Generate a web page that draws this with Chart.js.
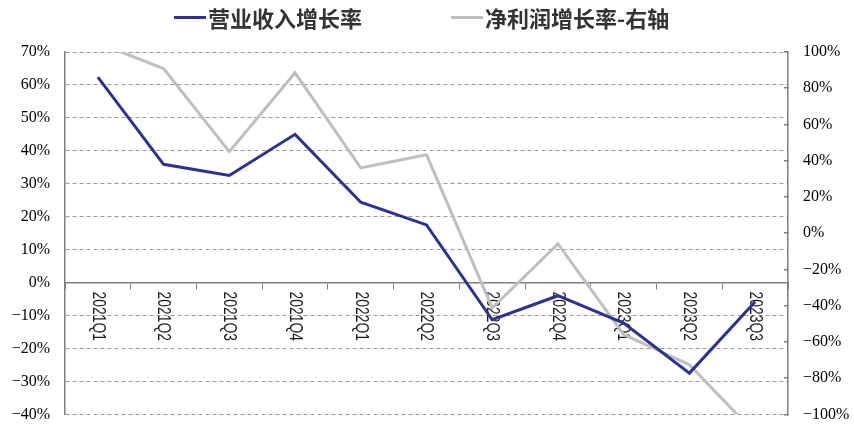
<!DOCTYPE html>
<html>
<head>
<meta charset="utf-8">
<script src="https://cdn.jsdelivr.net/npm/chart.js@4"></script>
<style>
  html, body { margin: 0; padding: 0; background: #fff; }
  #wrap { width: 854px; height: 425px; }
</style>
</head>
<body>
<div id="wrap"><canvas id="c" width="854" height="425"></canvas></div>
<script>
  const quarters = ["2021Q1","2021Q2","2021Q3","2021Q4","2022Q1","2022Q2","2022Q3","2022Q4","2023Q1","2023Q2","2023Q3"];
  const revenueGrowth = [62.4, 35.9, 32.5, 45.0, 24.4, 17.5, -11.3, -4.0, -12.3, -27.5, -5.8];
  const profitGrowth = [105, 90.9, 45.0, 88.5, 36.0, 43.3, -41.3, -5.9, -56.0, -72.6, -110.4];
  const seriesNames = ["营业收入增长率", "净利润增长率-右轴"];
  const leftRange = { min: -40, max: 70, step: 10 };
  const rightRange = { min: -100, max: 100, step: 20 };

  const BLUE = "#2e3192";
  const GRAY = "#bfbfbf";
  const AXIS = "#7f7f7f";
  const GRID = "#999";
  const TEXT = "#000";

  function pct(v){
    return (v < 0 ? "\u2212" + Math.abs(v) : v) + "%";
  }

  // fixed axis widths, no label overhang so the plot box lands where the original is
  function fixWidth(w){
    return s => { s.width = w; s.paddingTop = 0; s.paddingBottom = 0; };
  }

  // quarter labels: rotated clockwise, narrow, hanging under the zero line
  const xLabelsPlugin = {
    id: "xLabels",
    beforeDatasetsDraw(chart){
      const ctx = chart.ctx;
      const x = chart.scales.x;
      const y0 = chart.scales.y.getPixelForValue(0);
      ctx.save();
      ctx.fillStyle = "#1a1a1a";
      ctx.font = "19px 'Liberation Sans', Arial, sans-serif";
      ctx.textAlign = "left";
      ctx.textBaseline = "middle";
      quarters.forEach((q, i) => {
        ctx.save();
        ctx.translate(x.getPixelForValue(i), y0 + 9);
        ctx.rotate(Math.PI / 2);
        ctx.scale(0.73, 1);
        ctx.fillText(q, 0, 0);
        ctx.restore();
      });
      ctx.restore();
    }
  };

  const legendPlugin = {
    id: "topLegend",
    afterDraw(chart){
      const ctx = chart.ctx;
      const items = [
        { x: 174, ds: chart.data.datasets[0] },
        { x: 451, ds: chart.data.datasets[1] }
      ];
      ctx.save();
      ctx.font = "bold 22px 'Noto Sans CJK SC', sans-serif";
      ctx.textBaseline = "middle";
      ctx.textAlign = "left";
      items.forEach(it => {
        ctx.strokeStyle = it.ds.borderColor;
        ctx.lineWidth = 3;
        ctx.beginPath();
        ctx.moveTo(it.x, 17.5);
        ctx.lineTo(it.x + 32, 17.5);
        ctx.stroke();
        ctx.fillStyle = "#333";
        ctx.fillText(it.ds.label, it.x + 34, 19);
      });
      ctx.restore();
    }
  };

  new Chart(document.getElementById("c").getContext("2d"), {
    type: "line",
    data: {
      labels: quarters,
      datasets: [
        {
          label: seriesNames[0],
          data: revenueGrowth,
          yAxisID: "y",
          borderColor: BLUE,
          backgroundColor: BLUE,
          borderWidth: 3,
          pointRadius: 0,
          tension: 0,
          clip: 0
        },
        {
          label: seriesNames[1],
          data: profitGrowth,
          yAxisID: "y1",
          borderColor: GRAY,
          backgroundColor: GRAY,
          borderWidth: 3,
          pointRadius: 0,
          tension: 0,
          clip: 0
        }
      ]
    },
    options: {
      responsive: false,
      animation: false,
      devicePixelRatio: 1,
      layout: { padding: { top: 52, bottom: 10.7, left: 0, right: 0 } },
      plugins: {
        legend: { display: false },
        tooltip: { enabled: false }
      },
      scales: {
        x: {
          position: { y: 0 },
          offset: true,
          afterFit(s){ s.height = 0; },
          grid: {
            offset: true,
            drawOnChartArea: false,
            drawTicks: true,
            tickLength: 6,
            color: AXIS,
            lineWidth: 1
          },
          border: { display: true, color: AXIS, width: 1.5 },
          ticks: { display: false }
        },
        y: {
          position: "left",
          min: leftRange.min,
          max: leftRange.max,
          afterFit: fixWidth(65),
          ticks: {
            stepSize: leftRange.step,
            padding: 15,
            color: TEXT,
            font: { family: "'Liberation Serif', 'Times New Roman', serif", size: 16 },
            callback: pct
          },
          grid: { color: GRID, lineWidth: 1, drawTicks: false },
          border: { display: true, color: AXIS, width: 1.5, dash: [4, 3] }
        },
        y1: {
          position: "right",
          min: rightRange.min,
          max: rightRange.max,
          afterFit: fixWidth(66),
          ticks: {
            stepSize: rightRange.step,
            padding: 19,
            color: TEXT,
            font: { family: "'Liberation Serif', 'Times New Roman', serif", size: 16 },
            callback: pct
          },
          grid: { drawOnChartArea: false, drawTicks: true, tickLength: -4, color: AXIS, lineWidth: 1.5 },
          border: { display: true, color: AXIS, width: 1.5 }
        }
      }
    },
    plugins: [xLabelsPlugin, legendPlugin]
  });
</script>
</body>
</html>
